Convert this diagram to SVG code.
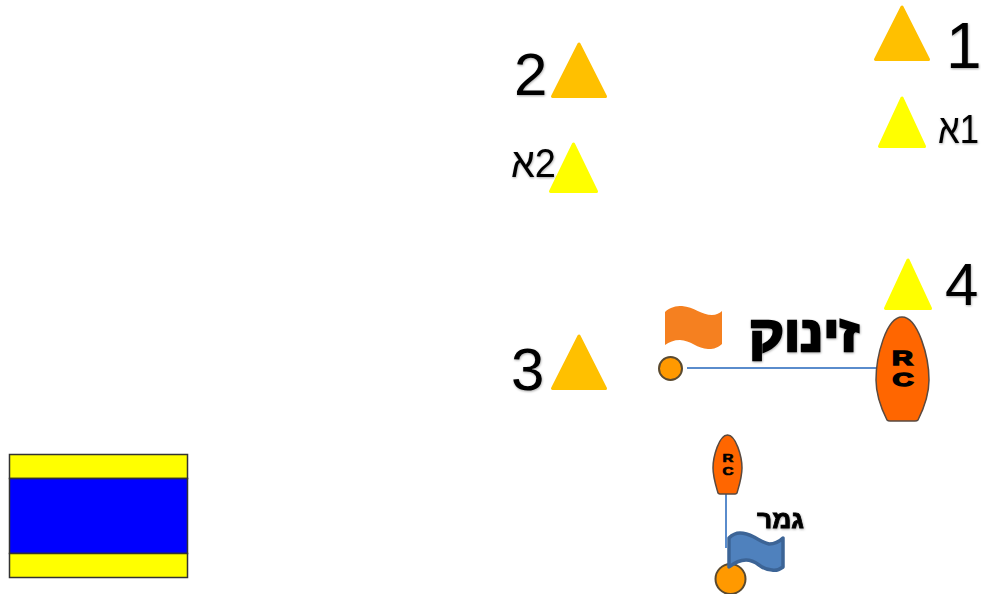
<svg xmlns="http://www.w3.org/2000/svg" width="981" height="594" viewBox="0 0 981 594">
<style>
.or{fill:#ffc000;stroke:#ffc000;stroke-width:3;stroke-linejoin:round}
.ye{fill:#ff0;stroke:#ff0;stroke-width:3;stroke-linejoin:round}
.num{font-family:"Liberation Sans",Arial,sans-serif;fill:#000;filter:url(#s)}
.heb{font-family:"Liberation Sans",Arial,sans-serif;font-weight:bold;fill:#000;stroke:#000;filter:url(#s)}
.rc{font-family:"Liberation Sans",Arial,sans-serif;font-weight:bold;fill:#000;stroke:#000;text-anchor:middle}
.boat{fill:#f60;stroke:#5a4a40;stroke-width:1.5}
.buoy{fill:#f90;stroke:#5a4a30;stroke-width:2}
.ln{stroke:#5a8ccc;stroke-width:2;fill:none}
</style>
<defs><filter id="s" x="-20%" y="-20%" width="140%" height="140%"><feDropShadow dx="0.5" dy="1" stdDeviation="0.8" flood-color="#000" flood-opacity="0.35"/></filter></defs>
<g id="connectors">
<line class="ln" x1="687" y1="368" x2="876" y2="368"/>
<line class="ln" x1="726" y1="491" x2="726" y2="548"/>
</g>
<g id="mark-1"><polygon class="or" points="902,7 875.500,59.500 928.500,59.500"/><text class="num" x="946" y="68" font-size="64">1</text></g>
<g id="mark-1a"><polygon class="ye" points="902,98 879.500,146.500 924.500,146.500"/><text class="num" x="979" y="143" font-size="41" direction="rtl" textLength="41" lengthAdjust="spacingAndGlyphs">1א</text></g>
<g id="mark-2"><polygon class="or" points="579,44 552.500,96.500 605.500,96.500"/><text class="num" x="514" y="95" font-size="60">2</text></g>
<g id="mark-2a"><polygon class="ye" points="573.500,144 550.500,191.500 596.500,191.500"/><text class="num" x="556" y="177" font-size="41" direction="rtl" textLength="45" lengthAdjust="spacingAndGlyphs">2א</text></g>
<g id="mark-3"><polygon class="or" points="579,336 552.500,388.500 605.500,388.500"/><text class="num" x="511" y="390" font-size="60">3</text></g>
<g id="mark-4"><polygon class="ye" points="908,260 885.500,308.500 930.500,308.500"/><text class="num" x="945" y="305" font-size="60">4</text></g>
<g id="start-flag"><path d="M665,312C670,307 676,306 682,306C694,307 702,315 712,315C716,315 720,313 722,311V344C716,349 712,349 708,349C698,349 690,340 680,340C674,340 669,342 665,345Z" fill="#f58020"/></g>
<g id="start-label"><text class="heb" x="859" y="351" font-size="50" stroke-width="2.500" direction="rtl" textLength="110" lengthAdjust="spacingAndGlyphs">זינוק</text></g>
<g id="start-buoy"><circle class="buoy" cx="670.500" cy="368.500" r="11.500"/></g>
<g id="start-boat"><path class="boat" d="M902,317C918,317 929,357 929,380C929,395 924,408 918,420Q917,421 915,421H890Q888,421 887,420C881,408 876,395 876,380C876,357 886,317 902,317Z"/><text class="rc" x="902.500" y="365" font-size="21" stroke-width="1.500" textLength="21" lengthAdjust="spacingAndGlyphs">R</text><text class="rc" x="903" y="386" font-size="19" stroke-width="1.500" textLength="21" lengthAdjust="spacingAndGlyphs">C</text></g>
<g id="finish-boat"><path class="boat" d="M727.500,435C736,435 742,457 742,468C742,477 739,486 737,493Q736,494 735,494H720Q719,494 718,493C716,486 713,477 713,468C713,457 719,435 727.500,435Z"/><text class="rc" x="728" y="462" font-size="11" stroke-width="0.600" textLength="11" lengthAdjust="spacingAndGlyphs">R</text><text class="rc" x="728" y="475" font-size="10" stroke-width="0.600" textLength="11" lengthAdjust="spacingAndGlyphs">C</text></g>
<g id="finish-label"><text class="heb" x="804" y="528" font-size="25" stroke-width="0.800" direction="rtl" textLength="47" lengthAdjust="spacingAndGlyphs">גמר</text></g>
<g id="finish-buoy"><circle class="buoy" cx="730.500" cy="579" r="15"/></g>
<g id="finish-flag"><path d="M729,538C732,535 736,533 740,533C746,533 750,535 754,537C759,540 764,543 769,544C774,544 779,542 783,538V567C779,570 776,571 772,570C767,570 763,568 759,565C755,562 751,560 746,560C740,560 734,563 729,567Z" fill="#4f81bd" stroke="#3c6496" stroke-width="3.500" stroke-linejoin="round"/></g>
<g id="pennant"><rect x="9.500" y="454.500" width="178" height="24" fill="#ff0" stroke="#333" stroke-width="1.500"/><rect x="9.500" y="478.500" width="178" height="75" fill="#00f" stroke="#333" stroke-width="1.500"/><rect x="9.500" y="553.500" width="178" height="24" fill="#ff0" stroke="#333" stroke-width="1.500"/></g>
</svg>
